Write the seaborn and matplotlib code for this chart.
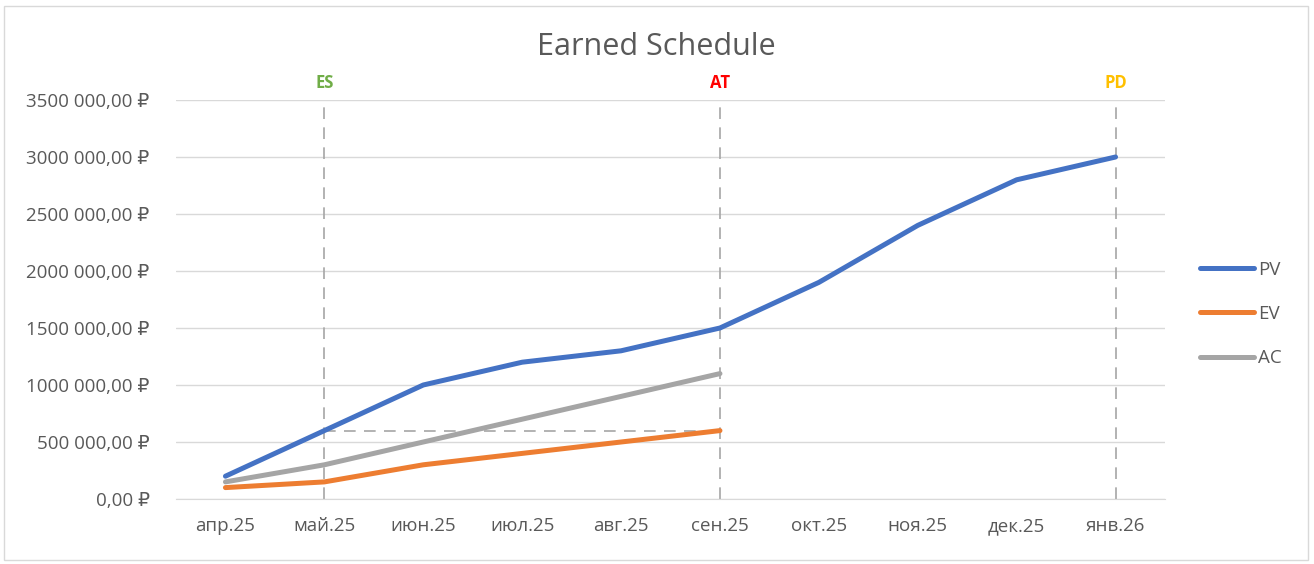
import pandas as pd
import seaborn as sns
import matplotlib.pyplot as plt
from matplotlib.patches import Rectangle
from matplotlib.ticker import FixedLocator, NullFormatter

# Chart data
months = ["апр.25", "май.25", "июн.25", "июл.25", "авг.25",
          "сен.25", "окт.25", "ноя.25", "дек.25", "янв.26"]
pv = [200000, 600000, 1000000, 1200000, 1300000, 1500000, 1900000, 2400000, 2800000, 3000000]
ev = [100000, 150000, 300000, 400000, 500000, 600000]
ac = [150000, 300000, 500000, 700000, 900000, 1100000]
y_ticks = [0, 500000, 1000000, 1500000, 2000000, 2500000, 3000000, 3500000]
y_labels = ["0,00 ₽", "500 000,00 ₽", "1000 000,00 ₽", "1500 000,00 ₽", "2000 000,00 ₽",
            "2500 000,00 ₽", "3000 000,00 ₽", "3500 000,00 ₽"]
markers = [("ES", "май.25", "#70AD47"), ("AT", "сен.25", "#FF0000"), ("PD", "янв.26", "#FFC000")]

# long-form table for seaborn
rows = []
for name, vals in [("PV", pv), ("EV", ev), ("AC", ac)]:
    for i, v in enumerate(vals):
        rows.append({"pos": i, "value": v, "series": name})
df = pd.DataFrame(rows)

sns.set_style("white")
plt.rcParams['font.family'] = ['Open Sans', 'DejaVu Sans']
text_col = "#595959"
grid_col = "#D9D9D9"

fig = plt.figure(figsize=(13.14, 5.64), dpi=100)
ax = fig.add_axes([176 / 1314, 1 - 499 / 564, (1165 - 176) / 1314, (499 - 100) / 564])

palette = {"PV": "#4472C4", "EV": "#ED7D31", "AC": "#A5A5A5"}
sns.lineplot(data=df, x="pos", y="value", hue="series", palette=palette,
             linewidth=3.6, ax=ax, legend=False, zorder=3,
             solid_capstyle="round", solid_joinstyle="round")

ax.set_xlim(-0.5, len(months) - 0.5)
ax.set_ylim(0, 3500000)

# vertical markers for ES / AT / PD
for lab, month, col in markers:
    xi = months.index(month)
    ax.plot([xi, xi], [0, 3500000], color="#A6A6A6", lw=1.2, ls=(0, (7, 5)), zorder=2)
    ax.text(xi, 1.043, lab, transform=ax.get_xaxis_transform(), color=col,
            fontsize=12, fontweight="bold", ha="center", va="center")

# horizontal line from ES to AT at current EV
es_i = months.index("май.25")
at_i = months.index("сен.25")
ax.plot([es_i, at_i], [ev[-1], ev[-1]], color="#A6A6A6", lw=1.2, ls=(0, (7, 5)), zorder=2)

# axes styling
ax.set_yticks(y_ticks)
ax.set_yticklabels(y_labels)
ax.set_xticks(range(len(months)))
ax.set_xticklabels(months)
ax.xaxis.set_minor_locator(FixedLocator([i - 0.5 for i in range(len(months) + 1)]))
ax.xaxis.set_minor_formatter(NullFormatter())
ax.tick_params(axis="x", which="major", length=0, pad=13, labelsize=13.5, labelcolor=text_col)
ax.tick_params(axis="x", which="minor", length=6, width=1, color=grid_col, direction="out")
ax.tick_params(axis="y", length=0, pad=19, labelsize=13.5, labelcolor=text_col)
ax.grid(axis="y", color=grid_col, lw=1)
ax.set_axisbelow(True)
for s in ["top", "right", "left"]:
    ax.spines[s].set_visible(False)
ax.spines["bottom"].set_color(grid_col)
ax.set_xlabel("")
ax.set_ylabel("")

fig.text(656 / 1314, 1 - 47 / 564, "Earned Schedule", ha="center", va="center",
         fontsize=22, color=text_col)

# legend
handles = [plt.Line2D([], [], color=palette[k], lw=3.6, solid_capstyle="round") for k in ["PV", "EV", "AC"]]
fig.legend(handles, ["PV", "EV", "AC"], loc="center left",
           bbox_to_anchor=(1183 / 1314, 1 - 314 / 564), frameon=False,
           fontsize=13.5, labelcolor=text_col, handlelength=2.9, handletextpad=0.2,
           labelspacing=1.4)

# outer chart border
fig.patches.append(Rectangle((4 / 1314, 4 / 564), 1304 / 1314, 554 / 564, transform=fig.transFigure,
                             fill=False, edgecolor=grid_col, lw=1))

fig.savefig("out.png", dpi=100)
